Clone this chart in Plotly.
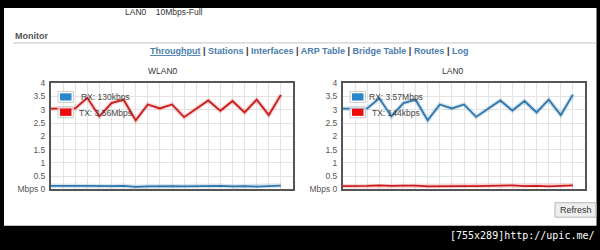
import plotly.graph_objects as go

# ---- data ----
samples = list(range(20))
wlan0_rx = [0.13, 0.12, 0.13, 0.13, 0.12, 0.12, 0.13, 0.09, 0.11, 0.12,
            0.12, 0.11, 0.12, 0.12, 0.13, 0.11, 0.12, 0.10, 0.11, 0.14]
wlan0_tx = [3.04, 3.04, 3.05, 3.45, 2.75, 3.25, 3.38, 2.60, 3.20, 3.05,
            3.20, 2.72, 3.05, 3.35, 2.96, 3.33, 2.90, 3.38, 2.80, 3.56]
lan0_rx = [3.04, 3.04, 3.05, 3.43, 2.75, 3.25, 3.38, 2.60, 3.20, 3.05,
           3.20, 2.73, 3.05, 3.35, 2.97, 3.33, 2.90, 3.38, 2.80, 3.57]
lan0_tx = [0.12, 0.12, 0.13, 0.15, 0.13, 0.14, 0.14, 0.11, 0.12, 0.13,
           0.12, 0.12, 0.13, 0.13, 0.15, 0.12, 0.13, 0.11, 0.12, 0.15]
chart_titles = ["WLAN0", "LAN0"]
legend_labels = [["RX: 130kbps", "TX: 3.56Mbps"], ["RX: 3.57Mbps", "TX: 144kbps"]]
ytick_vals = [0, 0.5, 1, 1.5, 2, 2.5, 3, 3.5, 4]
ytick_text = ["Mbps 0", "0.5", "1", "1.5", "2", "2.5", "3", "3.5", "4"]
nav_items = ["Throughput", "Stations", "Interfaces", "ARP Table", "Bridge Table", "Routes", "Log"]

W, H = 600, 250
RX_LINE, TX_LINE = "#2f76ad", "#cc1a1a"
RX_BOX, TX_BOX = "#2a87cc", "#ee0b0b"
FONT = "Liberation Sans, Arial, sans-serif"

def px(x):
    return x / W

def py(y):
    return 1 - y / H

fig = go.Figure()

series = [
    ("x", "y", wlan0_rx, RX_LINE, "rgba(47,118,173,0.2)", legend_labels[0][0]),
    ("x", "y", wlan0_tx, TX_LINE, "rgba(204,26,26,0.18)", legend_labels[0][1]),
    ("x2", "y2", lan0_rx, RX_LINE, "rgba(47,118,173,0.2)", legend_labels[1][0]),
    ("x2", "y2", lan0_tx, TX_LINE, "rgba(204,26,26,0.18)", legend_labels[1][1]),
]
for xa, ya, vals, col, shadow, name in series:
    fig.add_trace(go.Scatter(x=samples, y=vals, xaxis=xa, yaxis=ya, mode="lines",
                             line=dict(color=shadow, width=4.5), hoverinfo="skip",
                             showlegend=False))
    fig.add_trace(go.Scatter(x=samples, y=vals, xaxis=xa, yaxis=ya, mode="lines",
                             line=dict(color=col, width=1.8), name=name,
                             showlegend=False))

xcommon = dict(range=[0, 20], dtick=1, showticklabels=False, ticks="",
               showgrid=True, gridcolor="#e3e3e3", gridwidth=1, zeroline=False,
               showline=True, linecolor="#555555", linewidth=2, mirror=True,
               fixedrange=True)
ycommon = dict(range=[0, 4], tickvals=ytick_vals, ticktext=ytick_text, ticks="",
               showgrid=True, gridcolor="#e3e3e3", gridwidth=1, zeroline=False,
               showline=True, linecolor="#555555", linewidth=2, mirror=True,
               tickfont=dict(family=FONT, size=8.5, color="#555555"),
               ticklabelstandoff=2, fixedrange=True)

dom_y = [py(192), py(81.5)]
fig.update_layout(
    width=W, height=H, margin=dict(l=0, r=0, t=0, b=0),
    paper_bgcolor="black", plot_bgcolor="white", showlegend=False,
    xaxis=dict(domain=[px(51), px(293)], anchor="y", **xcommon),
    yaxis=dict(domain=dom_y, anchor="x", **ycommon),
    xaxis2=dict(domain=[px(343), px(585)], anchor="y2", **xcommon),
    yaxis2=dict(domain=dom_y, anchor="x2", **ycommon),
)

shapes = []
annos = []
# white page area
shapes.append(dict(type="rect", xref="paper", yref="paper", layer="below",
                   x0=px(4), x1=px(596.5), y0=py(230), y1=py(3),
                   fillcolor="white", line=dict(width=0)))
# heading rule
shapes.append(dict(type="line", xref="paper", yref="paper",
                   x0=px(13), x1=px(596.5), y0=py(39.5), y1=py(39.5),
                   line=dict(color="#c4c4c4", width=1)))

annos.append(dict(x=px(123), y=py(7), xref="paper", yref="paper", xanchor="left",
                  yanchor="middle", showarrow=False,
                  text="LAN0&nbsp;&nbsp;&nbsp;&nbsp;10Mbps-Full",
                  font=dict(family=FONT, size=8.5, color="#333333")))
annos.append(dict(x=px(13), y=py(32.5), xref="paper", yref="paper", xanchor="left",
                  yanchor="middle", showarrow=False, text="<b>Monitor</b>",
                  font=dict(family=FONT, size=9, color="#555555")))

sep = '<span style="color:#333333"> | </span>'
nav_html = sep.join(("<u>%s</u>" % n if i == 0 else n) for i, n in enumerate(nav_items))
annos.append(dict(x=px(308.5), y=py(48), xref="paper", yref="paper", xanchor="center",
                  yanchor="middle", showarrow=False, text="<b>" + nav_html + "</b>",
                  font=dict(family=FONT, size=9, color="#4a7cad")))

# chart titles
for cx, t in zip([163, 452.5], chart_titles):
    annos.append(dict(x=px(cx), y=py(68.5), xref="paper", yref="paper", xanchor="center",
                      yanchor="middle", showarrow=False, text=t,
                      font=dict(family=FONT, size=8.5, color="#333333")))

# legends
for bx, tx, labels in [(60, 105, legend_labels[0]), (352, 396, legend_labels[1])]:
    for (by, col), lab in zip([(92, RX_BOX), (108, TX_BOX)], labels):
        shapes.append(dict(type="rect", xref="paper", yref="paper",
                           x0=px(bx - 2), x1=px(bx + 13.5), y0=py(by + 9.5), y1=py(by - 2),
                           fillcolor="rgba(255,255,255,0.6)", line=dict(color="#cccccc", width=1)))
        shapes.append(dict(type="rect", xref="paper", yref="paper",
                           x0=px(bx), x1=px(bx + 11.5), y0=py(by + 7.5), y1=py(by),
                           fillcolor=col, line=dict(width=0)))
        annos.append(dict(x=px(tx), y=py(by + 4), xref="paper", yref="paper",
                          xanchor="center", yanchor="middle", showarrow=False, text=lab,
                          font=dict(family=FONT, size=8.5, color="#444444")))

# refresh button
shapes.append(dict(type="rect", xref="paper", yref="paper",
                   x0=px(555), x1=px(596), y0=py(221), y1=py(206),
                   fillcolor="#eeeeee", line=dict(color="#b5b5b5", width=1)))
annos.append(dict(x=px(575.5), y=py(213.5), xref="paper", yref="paper", xanchor="center",
                  yanchor="middle", showarrow=False, text="Refresh",
                  font=dict(family=FONT, size=9, color="#333333")))

# watermark
annos.append(dict(x=px(597), y=py(240), xref="paper", yref="paper", xanchor="right",
                  yanchor="middle", showarrow=False, text="[755x289]http://upic.me/",
                  font=dict(family="DejaVu Sans Mono, monospace", size=10, color="white")))

fig.update_layout(shapes=shapes, annotations=annos)
fig.write_html("out.html")
